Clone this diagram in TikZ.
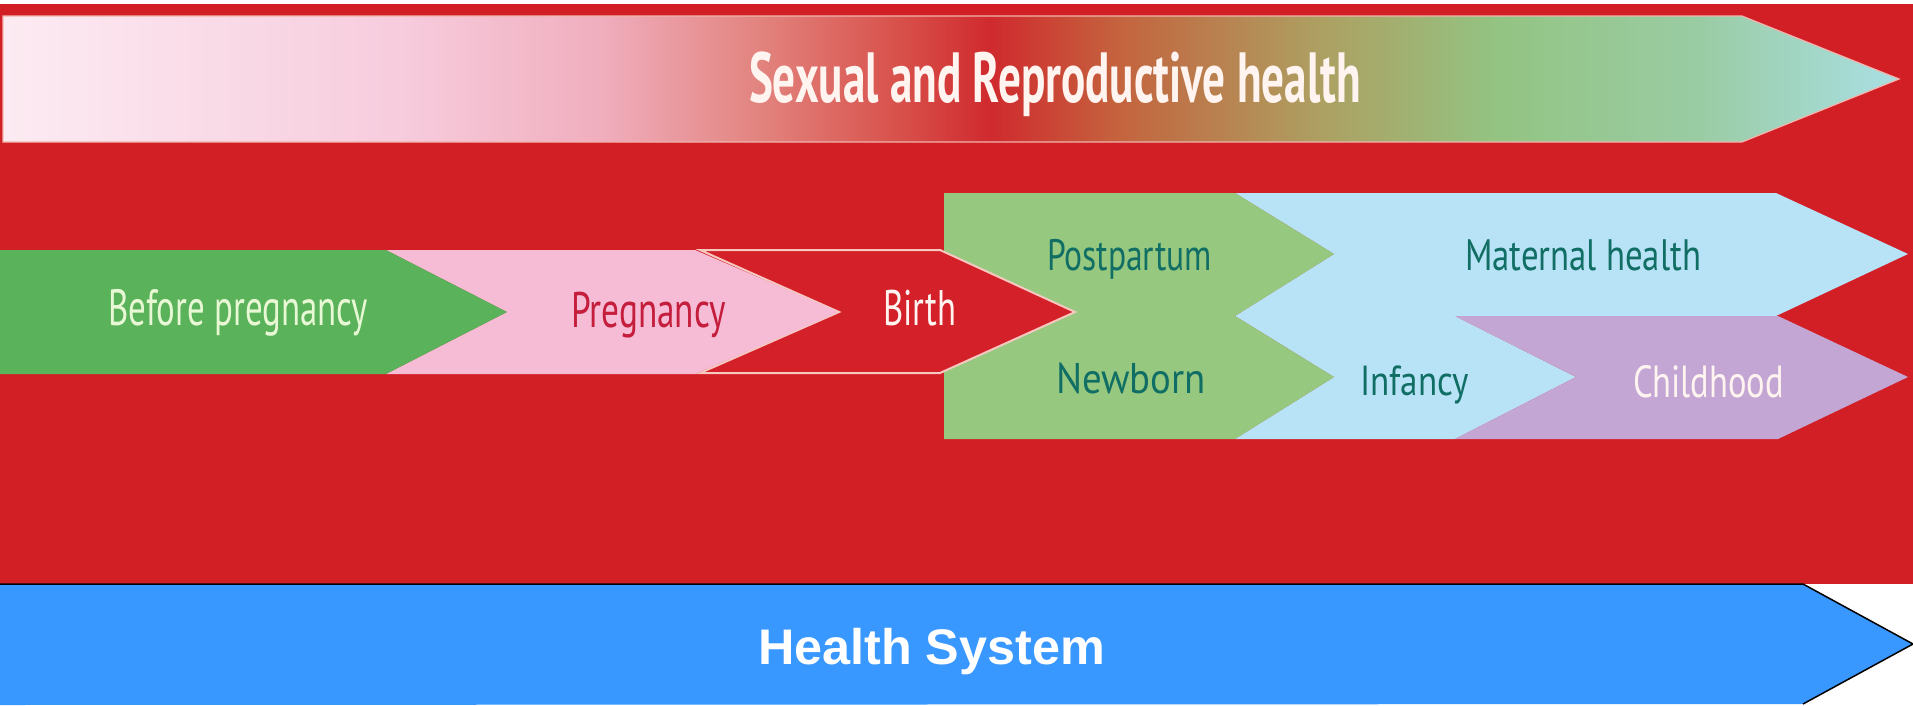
\documentclass[tikz,border=0pt]{standalone}
\usepackage{fontspec}
\setmainfont{PT Sans}
\newfontfamily\hsfont{Liberation Sans}
\usepackage{graphicx}
\definecolor{bgred}{HTML}{D21F26}
\definecolor{bgreen}{HTML}{5AB25A}
\definecolor{pinkc}{HTML}{F6BCD6}
\definecolor{bred}{HTML}{D42028}
\definecolor{birthedge}{HTML}{F6C8C0}
\definecolor{pgreen}{HTML}{96C880}
\definecolor{lblue}{HTML}{B8E2F6}
\definecolor{purp}{HTML}{C4A6D4}
\definecolor{hsblue}{HTML}{3898FF}
\definecolor{tealtxt}{HTML}{106E64}
\definecolor{pregtxt}{HTML}{C41E3C}
\definecolor{paletxt}{HTML}{FFF4F0}
\definecolor{bptxt}{HTML}{E8F8D4}
\definecolor{titleedge}{HTML}{F2B4AC}
\definecolor{g0}{HTML}{FCEBF2}
\definecolor{g1}{HTML}{F7CCDD}
\definecolor{g2}{HTML}{F0AEBE}
\definecolor{g3}{HTML}{E2837E}
\definecolor{g4}{HTML}{D8504A}
\definecolor{g5}{HTML}{D02A2E}
\definecolor{g6}{HTML}{C4643E}
\definecolor{g7}{HTML}{ADA062}
\definecolor{g8}{HTML}{93C483}
\definecolor{g9}{HTML}{9ACCA4}
\definecolor{g10}{HTML}{A9DFE4}
\pgfdeclarehorizontalshading{srh}{100bp}{color(0bp)=(g0); color(25bp)=(g0); color(35.49bp)=(g1); color(40.76bp)=(g2); color(44.98bp)=(g3); color(48.67bp)=(g4); color(51.04bp)=(g5); color(54.47bp)=(g6); color(59.74bp)=(g7); color(64.48bp)=(g8); color(69.76bp)=(g9); color(75bp)=(g10); color(100bp)=(g10)}
\newsavebox\fitsb
\newcommand\fitto[2]{\sbox\fitsb{#2}\pgfmathsetmacro\fitsx{#1/\the\wd\fitsb}\scalebox{\fitsx}[1]{\usebox\fitsb}}
\tikzset{
  lbl/.style={anchor=base west, inner sep=0pt, outer sep=0pt},
  fs/.style={font={\fontsize{#1}{#1}\selectfont}},
  fsb/.style={font={\fontsize{#1}{#1}\selectfont\bfseries}},
  fsh/.style={font={\hsfont\fontsize{#1}{#1}\selectfont\bfseries}}
}
\begin{document}
\begin{tikzpicture}[x=1pt,y=-1pt]
\useasboundingbox (0,0) rectangle (1913,705);
\fill[white] (0,0) rectangle (1913,705);
\fill[bgred] (0,4) rectangle (1913,584);
% title arrow
\shadedraw[shading=srh, draw=titleedge, line width=1.2pt] (3,16) -- (1742,16) -- (1899,79) -- (1742,142) -- (3,142) -- cycle;
% right block
\fill[lblue] (1235,193) -- (1776,193) -- (1908,254) -- (1776,316) -- (1455,316) -- (1576,377) -- (1455,439) -- (1235,439) -- (1334,377) -- (1235,316) -- (1334,254) -- cycle;
\fill[pgreen] (944,193) -- (1235,193) -- (1334,254) -- (1235,316) -- (1334,377) -- (1235,439) -- (944,439) -- cycle;
\fill[purp] (1455,316) -- (1778,316) -- (1908,377) -- (1778,439) -- (1455,439) -- (1576,377) -- cycle;
% main row
\filldraw[fill=bred, draw=birthedge, line width=2pt, line join=miter] (700,250) -- (940,250) -- (1075,312) -- (940,373) -- (700,373) -- (839,312) -- cycle;
\fill[pinkc] (386,250) -- (695,250) -- (839,312) -- (695,374) -- (386,374) -- (507,312) -- cycle;
\fill[bgreen] (0,250) -- (386,250) -- (507,312) -- (386,374) -- (0,374) -- cycle;
% health system arrow
\fill[hsblue] (0,584) -- (1803,584) -- (1913,644) -- (1803,704) -- (0,705) -- cycle;
\draw[black, line width=1.5pt] (0,584) -- (1803,584) -- (1913,644) -- (1803,704);
% labels
\node[lbl, fsb=71, text=paletxt] (title) at (749,102) {\fitto{612}{Sexual and Reproductive health}};
\node[lbl, fs=51, text=bptxt] (before) at (108,325) {\fitto{260}{Before pregnancy}};
\node[lbl, fs=50, text=pregtxt] (preg) at (571,327) {\fitto{155}{Pregnancy}};
\node[lbl, fs=50, text=paletxt] (birth) at (883,325) {\fitto{73}{Birth}};
\node[lbl, fs=44, text=tealtxt] (post) at (1047,270) {\fitto{165}{Postpartum}};
\node[lbl, fs=43, text=tealtxt] (newb) at (1056,393) {\fitto{150}{Newborn}};
\node[lbl, fs=44, text=tealtxt] (mat) at (1465,270) {\fitto{236}{Maternal health}};
\node[lbl, fs=42, text=tealtxt] (inf) at (1360,395) {\fitto{109}{Infancy}};
\node[lbl, fs=45, text=paletxt] (child) at (1633,397) {\fitto{151}{Childhood}};
\node[lbl, fsh=50, text=white] (hs) at (758,664) {\fitto{347}{Health System}};
\end{tikzpicture}
\end{document}
